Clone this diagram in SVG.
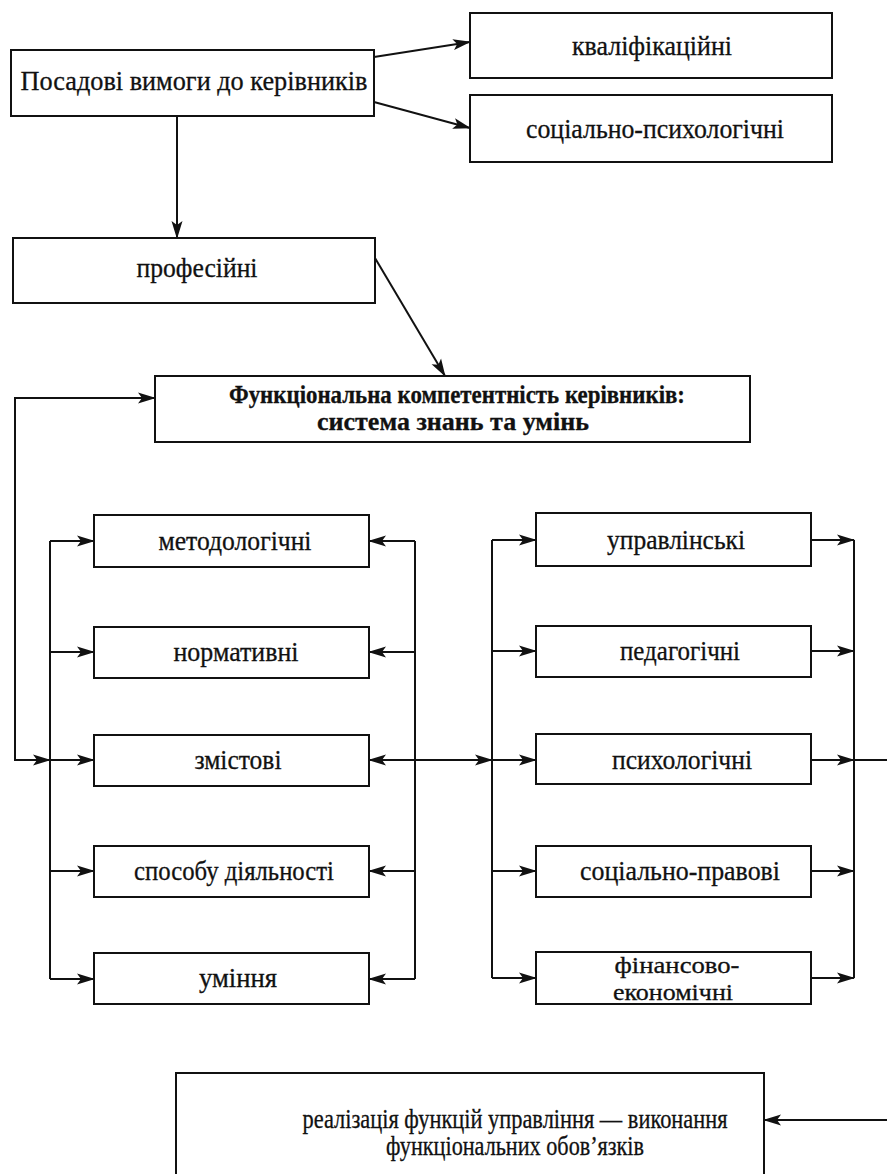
<svg xmlns="http://www.w3.org/2000/svg" width="887" height="1174" viewBox="0 0 887 1174">
<defs>
<marker id="ah" markerUnits="userSpaceOnUse" markerWidth="20" markerHeight="12" refX="17" refY="6" orient="auto-start-reverse">
<path d="M0,0.5 L18,6 L0,11.5 L4,6 z" fill="#111"/>
</marker>
<style>
.box{fill:#fff;stroke:#111;stroke-width:2}
.t{font-family:"Liberation Serif","DejaVu Serif",serif;font-size:27px;fill:#111;stroke:#111;stroke-width:0.3;text-anchor:middle}
.b{font-weight:bold;font-size:25px}
.s{font-size:23px}
.c{fill:none;stroke:#111;stroke-width:2}
.a{fill:none;stroke:#111;stroke-width:2;marker-end:url(#ah)}
.aa{fill:none;stroke:#111;stroke-width:2;marker-end:url(#ah);marker-start:url(#ah)}
</style>
</defs>
<rect width="887" height="1174" fill="#fff"/>

<g id="connectors">
<path class="a" d="M374,57 L470,42"/>
<path class="a" d="M374,102 L470,128"/>
<path class="a" d="M177,116 L177,238"/>
<path class="a" d="M375,258 L445,376"/>
<path class="aa" d="M50,760 L15,760 L15,398 L155,398"/>
<path class="c" d="M50,541 L50,979"/>
<path class="c" d="M415,541 L415,979"/>
<path class="a" d="M50,541 L94,541"/>
<path class="a" d="M50,652 L94,652"/>
<path class="a" d="M50,760 L94,760"/>
<path class="a" d="M50,871 L94,871"/>
<path class="a" d="M50,979 L94,979"/>
<path class="a" d="M415,541 L369,541"/>
<path class="a" d="M415,652 L369,652"/>
<path class="a" d="M415,871 L369,871"/>
<path class="a" d="M415,979 L369,979"/>
<path class="aa" d="M369,760 L492,760"/>
<path class="c" d="M492,540 L492,978"/>
<path class="c" d="M854,540 L854,978"/>
<path class="a" d="M492,540 L536,540"/>
<path class="a" d="M492,651 L536,651"/>
<path class="a" d="M492,760 L536,760"/>
<path class="a" d="M492,871 L536,871"/>
<path class="a" d="M492,978 L536,978"/>
<path class="a" d="M811,540 L854,540"/>
<path class="a" d="M811,651 L854,651"/>
<path class="a" d="M811,760 L854,760"/>
<path class="a" d="M811,871 L854,871"/>
<path class="a" d="M811,978 L854,978"/>
<path class="c" d="M854,760 L887,760"/>
<path class="a" d="M887,1120 L764,1120"/>
</g>

<g id="posadovi">
<rect class="box" x="11" y="50" width="363" height="66"/>
<text class="t" x="194" y="90" textLength="347" lengthAdjust="spacingAndGlyphs">Посадові вимоги до керівників</text>
</g>
<g id="kvalif">
<rect class="box" x="470" y="13" width="362" height="65"/>
<text class="t" x="652" y="55" textLength="160" lengthAdjust="spacingAndGlyphs">кваліфікаційні</text>
</g>
<g id="socpsych">
<rect class="box" x="470" y="95" width="362" height="67"/>
<text class="t" x="655" y="138" textLength="258" lengthAdjust="spacingAndGlyphs">соціально-психологічні</text>
</g>
<g id="profesiini">
<rect class="box" x="13" y="238" width="362" height="65"/>
<text class="t" x="197" y="277" textLength="121" lengthAdjust="spacingAndGlyphs">професійні</text>
</g>
<g id="funkc">
<rect class="box" x="155" y="376" width="595" height="66"/>
<text class="t b" x="457" y="403" textLength="456" lengthAdjust="spacingAndGlyphs">Функціональна компетентність керівників:</text>
<text class="t b" x="453" y="430" textLength="272" lengthAdjust="spacingAndGlyphs">система знань та умінь</text>
</g>

<g id="metod">
<rect class="box" x="94" y="515" width="275" height="52"/>
<text class="t" x="235" y="550" textLength="153" lengthAdjust="spacingAndGlyphs">методологічні</text>
</g>
<g id="normat">
<rect class="box" x="94" y="627" width="275" height="51"/>
<text class="t" x="236" y="661" textLength="125" lengthAdjust="spacingAndGlyphs">нормативні</text>
</g>
<g id="zmist">
<rect class="box" x="94" y="735" width="275" height="51"/>
<text class="t" x="238" y="769" textLength="87" lengthAdjust="spacingAndGlyphs">змістові</text>
</g>
<g id="sposobu">
<rect class="box" x="94" y="846" width="275" height="51"/>
<text class="t" x="234" y="880" textLength="200" lengthAdjust="spacingAndGlyphs">способу діяльності</text>
</g>
<g id="uminnia">
<rect class="box" x="94" y="953" width="275" height="51"/>
<text class="t" x="238" y="987" textLength="78" lengthAdjust="spacingAndGlyphs">уміння</text>
</g>

<g id="upravl">
<rect class="box" x="536" y="513" width="275" height="53"/>
<text class="t" x="676" y="549" textLength="138" lengthAdjust="spacingAndGlyphs">управлінські</text>
</g>
<g id="pedag">
<rect class="box" x="536" y="626" width="275" height="51"/>
<text class="t" x="680" y="660" textLength="120" lengthAdjust="spacingAndGlyphs">педагогічні</text>
</g>
<g id="psych">
<rect class="box" x="536" y="734" width="275" height="50"/>
<text class="t" x="682" y="769" textLength="140" lengthAdjust="spacingAndGlyphs">психологічні</text>
</g>
<g id="socprav">
<rect class="box" x="536" y="846" width="275" height="51"/>
<text class="t" x="680" y="880" textLength="200" lengthAdjust="spacingAndGlyphs">соціально-правові</text>
</g>
<g id="finans">
<rect class="box" x="536" y="952" width="275" height="52"/>
<text class="t s" x="677" y="973" textLength="125" lengthAdjust="spacingAndGlyphs">фінансово-</text>
<text class="t s" x="673" y="1000" textLength="120" lengthAdjust="spacingAndGlyphs">економічні</text>
</g>

<g id="realiz">
<rect class="box" x="176" y="1073" width="588" height="120"/>
<text class="t" x="515" y="1128" textLength="425" lengthAdjust="spacingAndGlyphs">реалізація функцій управління — виконання</text>
<text class="t" x="515" y="1155" textLength="258" lengthAdjust="spacingAndGlyphs">функціональних обов’язків</text>
</g>
</svg>
